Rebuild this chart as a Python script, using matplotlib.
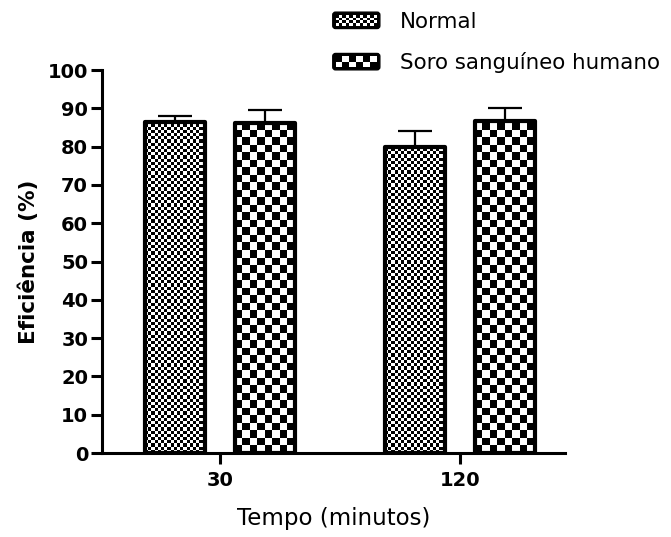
import numpy as np
import matplotlib
matplotlib.use("Agg")
import matplotlib.pyplot as plt
from matplotlib.patches import Rectangle, FancyBboxPatch
from matplotlib.legend_handler import HandlerBase

groups = ["30", "120"]
series = ["Normal", "Soro sanguíneo humano"]
normal = [86.4, 79.9]
normal_err = [1.7, 4.2]
soro = [86.2, 86.7]
soro_err = [3.4, 3.3]

W, H = 671, 537
fig = plt.figure(figsize=(W / 100, H / 100), dpi=100)
ax = fig.add_axes([0.152, 0.1564, 0.690, 0.7132])

x = np.arange(len(groups))
bw = 0.25
off = 0.1875
xlim = (-0.492, 1.4375)
ylim = (0, 100)
ax.set_xlim(*xlim)
ax.set_ylim(*ylim)

# pixel -> data scale, for square checker cells
ax_px_w = 0.690 * W
ax_px_h = 0.7132 * H
px_x = (xlim[1] - xlim[0]) / ax_px_w
px_y = (ylim[1] - ylim[0]) / ax_px_h


def checker_bars(xs, vals, errs, cell_px):
    bars = ax.bar(xs, vals, bw, facecolor="none", edgecolor="black",
                  linewidth=3, joinstyle="round", zorder=3)
    for b in bars:
        x0, w, h = b.get_x(), b.get_width(), b.get_height()
        cx, cy = cell_px * px_x, cell_px * px_y
        nx = int(np.ceil(w / cx))
        ny = int(np.ceil(h / cy))
        ii, jj = np.indices((ny, nx))
        img = (ii + jj) % 2
        im = ax.imshow(img, cmap="gray", vmin=0, vmax=1, origin="lower",
                       extent=(x0, x0 + nx * cx, 0, ny * cy),
                       interpolation="nearest", aspect="auto", zorder=2)
        im.set_clip_path(b)
    ax.errorbar(xs, vals, yerr=[np.zeros(len(errs)), errs], fmt="none",
                ecolor="black", elinewidth=1.6, capsize=12, capthick=1.6,
                zorder=1)
    return bars


b1 = checker_bars(x - off, normal, normal_err, 3.2)
b2 = checker_bars(x + off, soro, soro_err, 7.5)
ax.set_xlim(*xlim)
ax.set_ylim(*ylim)

for s in ["top", "right"]:
    ax.spines[s].set_visible(False)
for s in ["left", "bottom"]:
    ax.spines[s].set_linewidth(2.2)

ax.set_yticks(np.arange(0, 101, 10))
ax.set_xticks(x)
ax.set_xticklabels(groups)
ax.tick_params(axis="both", width=2.2, length=8, labelsize=14, pad=2)
for lab in ax.get_xticklabels() + ax.get_yticklabels():
    lab.set_fontweight("bold")
ax.tick_params(axis="x", pad=5)

ax.set_ylabel("Eficiência (%)", fontsize=15.5, fontweight="bold", labelpad=6)
ax.set_xlabel("Tempo (minutos)", fontsize=16.5, labelpad=12)


class CheckerHandler(HandlerBase):
    def __init__(self, ncols, nrows):
        super().__init__()
        self.ncols = ncols
        self.nrows = nrows

    def create_artists(self, legend, orig_handle, xdescent, ydescent,
                       width, height, fontsize, trans):
        arts = [FancyBboxPatch((-xdescent, -ydescent), width, height,
                               boxstyle="round,pad=0,rounding_size=2",
                               facecolor="black", edgecolor="black",
                               transform=trans)]
        pad = 2.0
        cw = (width - 2 * pad) / self.ncols
        ch = (height - 2 * pad) / self.nrows
        for r in range(self.nrows):
            for c in range(self.ncols):
                if (r + c) % 2 == 0:
                    arts.append(Rectangle((-xdescent + pad + c * cw,
                                           -ydescent + pad + r * ch), cw, ch,
                                          facecolor="white", edgecolor="none",
                                          transform=trans))
        return arts


fig.legend([b1, b2], series, loc="upper left",
           bbox_to_anchor=(0.480, 0.998), frameon=False, fontsize=15.4,
           borderpad=0, handlelength=2.2, handleheight=0.8,
           handletextpad=0.95, labelspacing=0.95,
           handler_map={b1: CheckerHandler(12, 4), b2: CheckerHandler(6, 2)})

fig.savefig("out.png", dpi=100)
